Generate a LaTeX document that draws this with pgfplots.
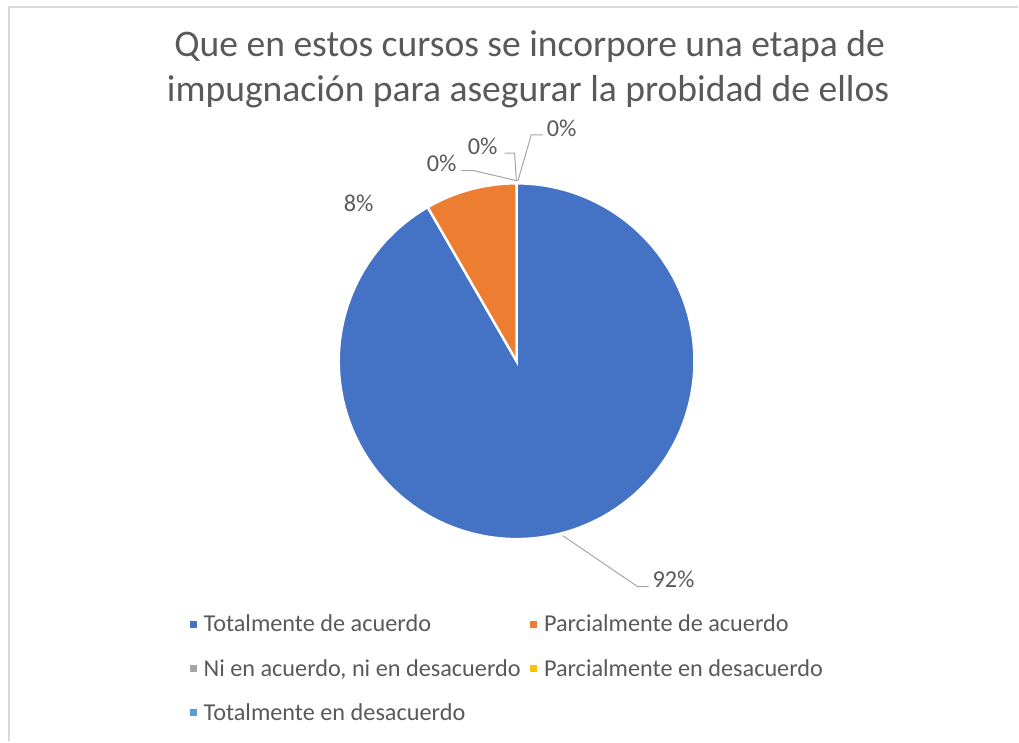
\documentclass[border=0pt]{standalone}
\usepackage{pgfplots}
\usepackage{pgfplotstable}
\pgfplotsset{compat=1.18}
\usepackage{fontspec}
\setmainfont{Carlito}
\definecolor{cA}{HTML}{4472C4}
\definecolor{cB}{HTML}{ED7D31}
\definecolor{cC}{HTML}{A5A5A5}
\definecolor{cD}{HTML}{FFC000}
\definecolor{cE}{HTML}{5B9BD5}
\definecolor{txt}{HTML}{595959}
\definecolor{lead}{HTML}{A6A6A6}
\definecolor{framec}{HTML}{D9D9D9}

\pgfplotstableread{
k pct
0 91.67
1 8.33
2 0
3 0
4 0
}\piedata
\pgfplotstablegetelem{0}{pct}\of\piedata \let\pA\pgfplotsretval
\pgfplotstablegetelem{1}{pct}\of\piedata \let\pB\pgfplotsretval
\pgfmathsetmacro{\sA}{90}
\pgfmathsetmacro{\eA}{90-3.6*\pA}
\pgfmathsetmacro{\eB}{\eA-3.6*\pB}

\begin{document}
\begin{tikzpicture}
\begin{axis}[scale only axis, width=764.25pt, height=556.5pt,
 xmin=0,xmax=1019,ymin=0,ymax=742, hide axis, clip=false,
 legend image code/.code={\path[draw=none, fill=none] (0pt,-2.6pt) rectangle (8.5pt,2.6pt); \fill[#1, draw=none] (0pt,-2.6pt) rectangle (5.25pt,2.6pt);},
 legend columns=2, legend cell align=left,
 legend style={at={(axis cs:185.5,132)}, anchor=north west, draw=none, fill=none,
   font=\fontsize{18.2}{22}\selectfont, text=txt, row sep=15pt,
   /tikz/every even column/.append style={column sep=5pt}},
]
\path (axis cs:0,0) rectangle (axis cs:1019,742);
\draw[framec, line width=1.2pt] (axis cs:9,0) -- (axis cs:9,735) -- (axis cs:1019,735);

% pie slices
\addplot[forget plot, fill=cA, draw=white, line width=1.8pt, domain=\eA:\sA, samples=150, variable=\t]
  ({517+178*cos(\t)},{380.5+178*sin(\t)}) -- (axis cs:517,380.5) -- cycle;
\addplot[forget plot, fill=cB, draw=white, line width=1.8pt, domain=\eB:\eA, samples=30, variable=\t]
  ({517+178*cos(\t)},{380.5+178*sin(\t)}) -- (axis cs:517,380.5) -- cycle;

% leader lines
\draw[lead, line width=0.75pt] (axis cs:563,206) -- (axis cs:638,155) -- (axis cs:649,155);
\draw[lead, line width=0.75pt] (axis cs:461.7,571.3) -- (axis cs:474,571.3) -- (axis cs:517.7,561);
\draw[lead, line width=0.75pt] (axis cs:505,588.7) -- (axis cs:515,588.7) -- (axis cs:516.7,561);
\draw[lead, line width=0.75pt] (axis cs:543.3,607) -- (axis cs:531.7,607) -- (axis cs:518.3,561);

% data labels
\begin{scope}[every node/.style={anchor=base, text=txt, font=\fontsize{18.2}{22}\selectfont, inner sep=0pt}]
\node at (axis cs:359,530) {8\%};
\node at (axis cs:442,570) {0\%};
\node at (axis cs:483,587) {0\%};
\node at (axis cs:562,605) {0\%};
\node at (axis cs:674,154) {92\%};
\end{scope}

% title
\node[anchor=base, text=txt, font=\fontsize{28.2}{34}\selectfont, inner sep=0pt] at (axis cs:530,685) {Que en estos cursos se incorpore una etapa de};
\node[anchor=base, text=txt, font=\fontsize{28.2}{34}\selectfont, inner sep=0pt] at (axis cs:528.5,640) {impugnación para asegurar la probidad de ellos};

% legend
\addlegendimage{fill=cA}\addlegendentry{Totalmente de acuerdo}
\addlegendimage{fill=cB}\addlegendentry{Parcialmente de acuerdo}
\addlegendimage{fill=cC}\addlegendentry{Ni en acuerdo, ni en desacuerdo}
\addlegendimage{fill=cD}\addlegendentry{Parcialmente en desacuerdo}
\addlegendimage{fill=cE}\addlegendentry{Totalmente en desacuerdo}
\end{axis}
\end{tikzpicture}
\end{document}
